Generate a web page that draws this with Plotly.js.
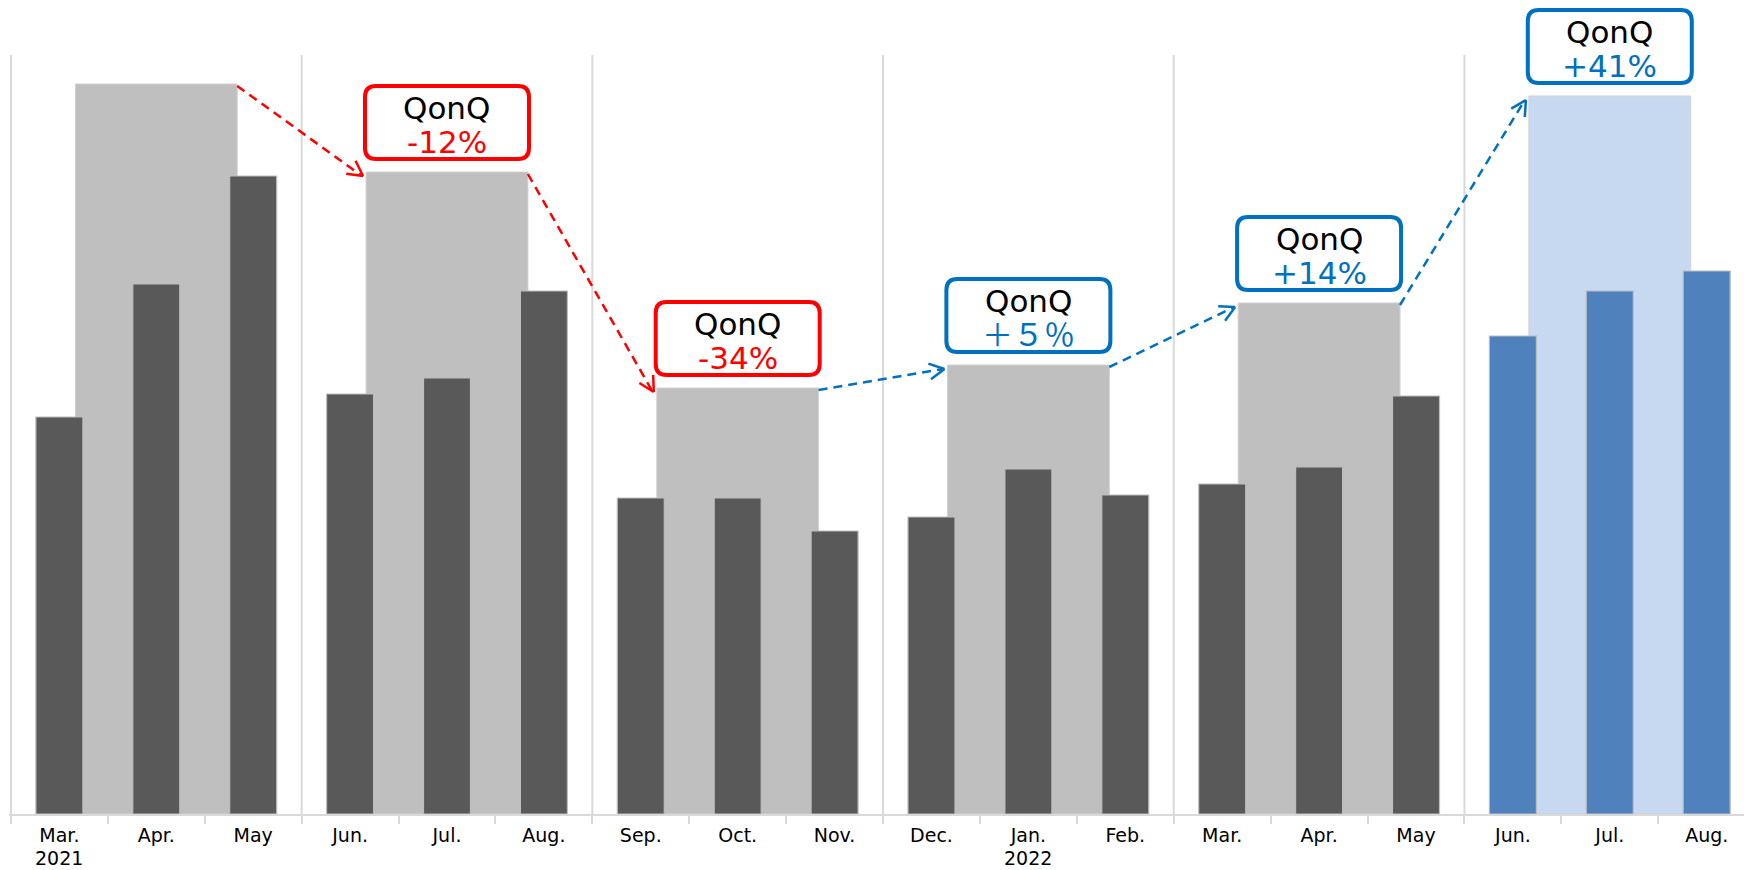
<!DOCTYPE html>
<html><head><meta charset="utf-8">
<script src="https://cdn.plot.ly/plotly-3.0.1.min.js"></script>
<style>html,body{margin:0;padding:0;background:#fff;overflow:hidden}</style>
</head><body>
<div id="chart" style="width:1744px;height:870px"></div>
<script>
// ---- data (heights in arbitrary units) ----
const monthLabels = ['Mar.','Apr.','May','Jun.','Jul.','Aug.','Sep.','Oct.','Nov.',
                     'Dec.','Jan.','Feb.','Mar.','Apr.','May','Jun.','Jul.','Aug.'];
const yearLabels  = ['2021','','','','','','','','','','2022','','','','','','',''];
const monthValues = [397,530,638,420,436,523,316,316,283,297,345,319,330,347,418,478,523,543];
const quarterValues = [730,642,426,449,511,718];
const qonqLabels = ['-12%','-34%','＋５％','+14%','+41%'];

// ---- layout geometry ----
const W = 1744, H = 870, ML = 9, MR = 0, MT = 55, MB = 56;
const monthPx = 96.9;
const XMIN = -0.52;
const plotW = W - ML - MR;
const XMAX = XMIN + plotW / monthPx;
const YMAX = H - MT - MB;           // y range [0, YMAX]

const monthX = monthValues.map((v, i) => i);
const quarterX = quarterValues.map((v, i) => 3 * i + 1);
const QW = 1.67, MW = 0.485;

const monthColors = monthValues.map((v, i) => i >= 15 ? '#4f81bd' : '#595959');
const quarterColors = quarterValues.map((v, i) => i >= 5 ? '#c6d9f0' : '#bfbfbf');

const RED = '#ff0000', BLUE = '#0070c0';
const AXFONT = 19;

const traces = [
  { type: 'bar', x: quarterX, y: quarterValues, width: QW,
    marker: { color: quarterColors, line: { color: '#d0d0d0', width: 1 } },
    hoverinfo: 'skip' },
  { type: 'bar', x: monthX, y: monthValues, width: MW,
    marker: { color: monthColors, line: { color: '#bdbdbd', width: 1.2 } },
    hoverinfo: 'skip' }
];

const shapes = [];
const annotations = [];

// quarter separators
for (let k = 0; k < 6; k++) {
  shapes.push({ type: 'line', xref: 'x', yref: 'paper', x0: 3 * k - 0.5, x1: 3 * k - 0.5, y0: 0, y1: 1,
    line: { color: '#d9d9d9', width: 2 }, layer: 'below' });
}

// helpers (pixel <-> data)
const xToPx = x => ML + (x - XMIN) * monthPx;
const pxToX = p => XMIN + (p - ML) / monthPx;
const yToPx = y => MT + YMAX - y;
const pxToP = p => (MT + YMAX - p) / YMAX;

// year labels under the month labels
yearLabels.forEach((t, i) => {
  if (!t) return;
  annotations.push({ xref: 'x', yref: 'paper', x: monthX[i], y: pxToP(858),
    text: t, showarrow: false, xanchor: 'center', yanchor: 'middle',
    font: { family: 'DejaVu Sans', size: AXFONT, color: '#000000' } });
});

// QonQ boxes
const BOX_W = 164, BOX_H = 73, GAP = 13, R = 11;
const FONT = 'DejaVu Sans, Noto Sans CJK JP';
for (let i = 1; i < quarterValues.length; i++) {
  const up = quarterValues[i] > quarterValues[i - 1];
  const col = up ? BLUE : RED;
  const cx = quarterX[i];
  const bottom = quarterValues[i] + GAP;
  const x0 = cx - BOX_W / 2 / monthPx, x1 = cx + BOX_W / 2 / monthPx;
  const y0 = bottom / YMAX, y1 = (bottom + BOX_H) / YMAX;
  const rx = R / monthPx, ry = R / YMAX;
  const path = `M ${x0 + rx},${y0} L ${x1 - rx},${y0} Q ${x1},${y0} ${x1},${y0 + ry} ` +
               `L ${x1},${y1 - ry} Q ${x1},${y1} ${x1 - rx},${y1} L ${x0 + rx},${y1} ` +
               `Q ${x0},${y1} ${x0},${y1 - ry} L ${x0},${y0 + ry} Q ${x0},${y0} ${x0 + rx},${y0} Z`;
  shapes.push({ type: 'path', xref: 'x', yref: 'paper', path: path,
    line: { color: col, width: 4 }, fillcolor: '#ffffff', layer: 'above' });
  annotations.push({ xref: 'x', yref: 'paper', x: cx, y: (bottom + 51) / YMAX,
    text: 'QonQ', showarrow: false, xanchor: 'center', yanchor: 'middle',
    font: { family: FONT, size: 31, color: '#000000' } });
  annotations.push({ xref: 'x', yref: 'paper', x: cx, y: (bottom + 17) / YMAX,
    text: qonqLabels[i - 1], showarrow: false, xanchor: 'center', yanchor: 'middle',
    font: { family: FONT, size: 31, color: col } });

  // dashed arrow from previous quarter bar's top-right corner to this bar's top-left corner
  const sx = xToPx(quarterX[i - 1] + QW / 2), sy = yToPx(quarterValues[i - 1]) + 2;
  const ex = xToPx(quarterX[i] - QW / 2) - 3, ey = yToPx(quarterValues[i]) + 4;
  shapes.push({ type: 'line', xref: 'x', yref: 'paper',
    x0: pxToX(sx), y0: pxToP(sy), x1: pxToX(ex - 1), y1: pxToP(ey),
    line: { color: col, width: 2.5, dash: '9px,6px' }, layer: 'above' });
  const len = Math.hypot(ex - sx, ey - sy);
  const dx = (ex - sx) / len, dy = (ey - sy) / len;
  const L = 17, a = 28 * Math.PI / 180;
  for (const s of [1, -1]) {
    const c = Math.cos(s * a), sn = Math.sin(s * a);
    const rxv = dx * c - dy * sn, ryv = dx * sn + dy * c;
    shapes.push({ type: 'line', xref: 'x', yref: 'paper',
      x0: pxToX(ex), y0: pxToP(ey), x1: pxToX(ex - L * rxv), y1: pxToP(ey - L * ryv),
      line: { color: col, width: 2.5 }, layer: 'above' });
  }
}

const layout = {
  width: W, height: H,
  margin: { l: ML, r: MR, t: MT, b: MB, pad: 0 },
  paper_bgcolor: '#ffffff', plot_bgcolor: '#ffffff',
  barmode: 'overlay', showlegend: false,
  xaxis: {
    type: 'linear', range: [XMIN, XMAX], fixedrange: true,
    tickmode: 'array', tickvals: monthX, ticktext: monthLabels,
    ticks: '', showgrid: false, zeroline: false,
    showline: true, linecolor: '#d9d9d9', linewidth: 2,
    ticklabelstandoff: 3,
    tickfont: { family: 'DejaVu Sans', size: AXFONT, color: '#000000' },
    minor: { tickmode: 'linear', tick0: -0.5, dtick: 1, ticks: 'outside', ticklen: 8,
             tickwidth: 2, tickcolor: '#d9d9d9', showgrid: false }
  },
  yaxis: {
    range: [0, YMAX], fixedrange: true, visible: false,
    showgrid: false, zeroline: false, showline: false
  },
  shapes: shapes,
  annotations: annotations
};

Plotly.newPlot('chart', traces, layout, { displayModeBar: false, staticPlot: true });
</script>
</body></html>
